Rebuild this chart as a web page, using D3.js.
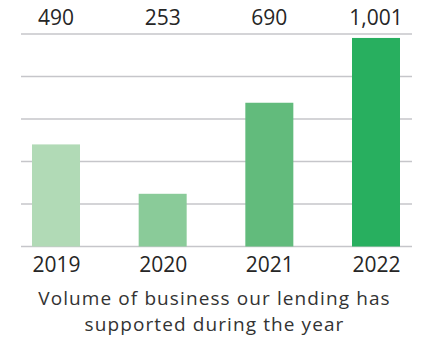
<!DOCTYPE html>
<html>
<head>
<meta charset="utf-8">
<script src="https://cdn.jsdelivr.net/npm/d3@7"></script>
<style>
  html, body { margin: 0; padding: 0; background: #fff; }
  svg { display: block; font-family: "Open Sans", "Noto Sans", sans-serif; }
</style>
</head>
<body>
<svg id="chart" width="429" height="338"></svg>
<script>
// Volume of business supported by lending, per year
const years = ["2019", "2020", "2021", "2022"];
const volumes = [490, 253, 690, 1001];
const valueLabels = ["490", "253", "690", "1,001"];
const barColors = ["#b1dab6", "#8acb99", "#62bb7c", "#28af5f"];
const gridValues = [0, 204, 408, 612, 816, 1020];
const captionLines = ["Volume of business our lending has", "supported during the year"];

const svg = d3.select("#chart");
const width = 429;

const x = d3.scalePoint().domain(years).range([56, 376]);
const y = d3.scaleLinear().domain([0, 1020]).range([246.5, 34]);
const barWidth = 48;

// horizontal grid lines
svg.append("g")
  .selectAll("line")
  .data(gridValues)
  .join("line")
  .attr("x1", 21)
  .attr("x2", 412)
  .attr("y1", d => y(d))
  .attr("y2", d => y(d))
  .attr("stroke", "#c6c6ca")
  .attr("stroke-width", 1.4);

// bars
svg.append("g")
  .selectAll("rect")
  .data(years)
  .join("rect")
  .attr("x", d => x(d) - barWidth / 2)
  .attr("y", (d, i) => y(volumes[i]))
  .attr("width", barWidth)
  .attr("height", (d, i) => y(0) - y(volumes[i]))
  .attr("fill", (d, i) => barColors[i]);

// value labels above the plot
svg.append("g")
  .selectAll("text")
  .data(years)
  .join("text")
  .attr("x", d => x(d))
  .attr("y", 25)
  .attr("text-anchor", "middle")
  .attr("font-size", 21)
  .attr("fill", "#262626")
  .text((d, i) => valueLabels[i]);

// year axis
const axis = svg.append("g")
  .attr("transform", `translate(0,${y(0)})`)
  .call(d3.axisBottom(x).tickSize(0).tickPadding(0));
axis.select(".domain").remove();
axis.selectAll("text")
  .attr("dy", 0)
  .attr("y", 25)
  .attr("font-size", 21)
  .attr("font-family", "'Open Sans', 'Noto Sans', sans-serif")
  .attr("fill", "#262626");

// caption
svg.append("g")
  .selectAll("text")
  .data(captionLines)
  .join("text")
  .attr("x", width / 2)
  .attr("y", (d, i) => 304.5 + i * 26)
  .attr("text-anchor", "middle")
  .attr("font-size", 19)
  .attr("letter-spacing", 1.1)
  .attr("fill", "#333")
  .text(d => d);
</script>
</body>
</html>
